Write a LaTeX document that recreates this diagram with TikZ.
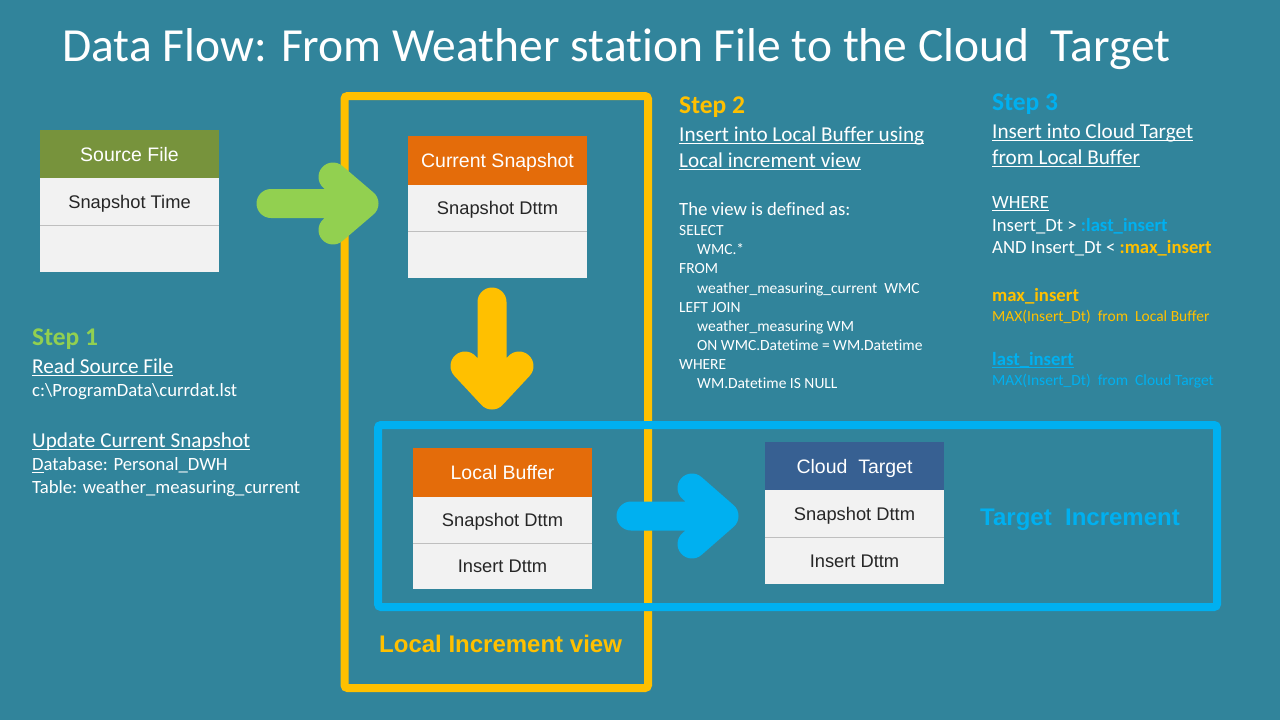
\documentclass[tikz,border=0pt]{standalone}
\usepackage{fontspec}
\setmainfont{Carlito}[Ligatures=NoCommon]
\newfontfamily\arial{Liberation Sans}
\newsavebox\ulbox
\newcommand\uln[1]{\sbox\ulbox{#1}\rlap{\rule[-3pt]{\wd\ulbox}{1.2pt}}\usebox\ulbox}
\newcommand\fsz[1]{\fontsize{#1}{#1}\selectfont}
\definecolor{bg}{RGB}{49,132,155}
\definecolor{cgreen}{HTML}{92D050}
\definecolor{cyellow}{HTML}{FFC000}
\definecolor{cblue}{HTML}{00B0F0}
\definecolor{colive}{HTML}{77933C}
\definecolor{corange}{HTML}{E46C0A}
\definecolor{cnavy}{HTML}{376092}
\definecolor{crow}{HTML}{F2F2F2}
\definecolor{csep}{HTML}{BFBFBF}
\definecolor{ctxt}{HTML}{262626}
\tikzset{
  txt/.style={anchor=base west, inner sep=0pt, text=white},
  hdrcell/.style={minimum width=179pt, minimum height=#1, inner sep=0pt,
    text height=14pt, text depth=0pt, text=white, font=\arial\fsz{19.5}},
  rowcell/.style={minimum width=179pt, minimum height=#1, inner sep=0pt, fill=crow,
    text height=13.2pt, text depth=0pt, text=ctxt, font=\arial\fsz{18.3}},
  sepline/.style={draw=csep, line width=1.2pt},
  fatarrow/.style={line width=29pt, line cap=round, line join=round},
  frame/.style={line width=8pt, rounded corners=3pt},
  bigbold/.style={txt, font=\arial\bfseries\fsz{24}},
  head/.style={txt, font=\fsz{21.2}},
}
\begin{document}
\begin{tikzpicture}[x=1pt,y=-1pt]
\fill[bg] (0,0) rectangle (1280,720);
\useasboundingbox (0,0) rectangle (1280,720);

% title
\node[txt, font=\fsz{47.5}] (title) at (62,61.5) {Data Flow: From Weather station File to the Cloud \ Target};

% yellow frame
\draw[frame, cyellow] (344.5,96) rectangle (648,688);
\node[bigbold, text=cyellow] (localview) at (379,652) {Local Increment view};

% Source File table
\node[hdrcell=48pt, fill=colive] (srch) at (129.5,154) {Source File};
\node[rowcell=47pt] (srcr1) at (129.5,201.5) {Snapshot Time};
\node[rowcell=47pt] (srcr2) at (129.5,248.5) {};
\draw[sepline] (srcr1.south west) -- (srcr1.south east);

% Current Snapshot table
\node[hdrcell=49pt, fill=corange] (curh) at (497.5,160.5) {Current Snapshot};
\node[rowcell=46pt] (curr1) at (497.5,208) {Snapshot Dttm};
\node[rowcell=47pt] (curr2) at (497.5,254.5) {};
\draw[sepline] (curr1.south west) -- (curr1.south east);

% green arrow
\coordinate (g0) at (271,203.5);
\coordinate (g1) at (364,203.5);
\coordinate (ga) at (333,177);
\coordinate (gb) at (333,230);
\draw[fatarrow, cgreen] (g0) -- (g1) (ga) -- (g1) -- (gb);

% yellow arrow
\coordinate (y0) at (492,302);
\coordinate (y1) at (492,395);
\coordinate (ya) at (465,366);
\coordinate (yb) at (519,366);
\draw[fatarrow, cyellow] (y0) -- (y1) (ya) -- (y1) -- (yb);

% blue frame
\draw[frame, cblue] (378,425) rectangle (1217,607);
\node[bigbold, text=cblue] (targinc) at (980,525) {Target \ Increment};

% Local Buffer table
\node[hdrcell=49pt, fill=corange] (lbh) at (502.5,472.5) {Local Buffer};
\node[rowcell=46pt] (lbr1) at (502.5,520) {Snapshot Dttm};
\node[rowcell=46pt] (lbr2) at (502.5,566) {Insert Dttm};
\draw[sepline] (lbr1.south west) -- (lbr1.south east);

% Cloud Target table
\node[hdrcell=48pt, fill=cnavy] (cth) at (854.5,466) {Cloud \ Target};
\node[rowcell=47pt] (ctr1) at (854.5,513.5) {Snapshot Dttm};
\node[rowcell=47pt] (ctr2) at (854.5,560.5) {Insert Dttm};
\draw[sepline] (ctr1.south west) -- (ctr1.south east);

% blue arrow
\coordinate (b0) at (631,516);
\coordinate (b1) at (724,516);
\coordinate (ba) at (692,488);
\coordinate (bb) at (692,544);
\draw[fatarrow, cblue] (b0) -- (b1) (ba) -- (b1) -- (bb);

% Step 1
\node[txt, text=cgreen, font=\bfseries\fsz{25.5}] (s1) at (32,345) {Step 1};
\node[head] (s1a) at (32,373) {\uln{Read Source File}};
\node[txt, font=\fsz{18.7}] (s1b) at (32,396) {c:\textbackslash ProgramData\textbackslash currdat.lst};
\node[head] (s1c) at (32,447) {\uln{Update Current Snapshot}};
\node[txt, font=\fsz{18.7}] (s1d) at (32,470) {\uln{D}atabase: Personal\_DWH};
\node[txt, font=\fsz{18.7}] (s1e) at (32,493) {Table: weather\_measuring\_current};

% Step 2
\node[txt, text=cyellow, font=\bfseries\fsz{25.5}] (s2) at (679,113) {Step 2};
\node[head] (s2a) at (679,141) {\uln{Insert into Local Buffer using}};
\node[head] (s2b) at (679,167) {\uln{Local increment view}};
\node[txt, font=\fsz{18.7}] (s2c) at (679,215) {The view is defined as:};
\node[txt, font=\fsz{15.5}] (q1) at (679,235) {SELECT};
\node[txt, font=\fsz{15.5}] (q2) at (697,254) {WMC.*};
\node[txt, font=\fsz{15.5}] (q3) at (679,273) {FROM};
\node[txt, font=\fsz{15.5}] (q4) at (697,293) {weather\_measuring\_current \ WMC};
\node[txt, font=\fsz{15.5}] (q5) at (679,312) {LEFT JOIN};
\node[txt, font=\fsz{15.5}] (q6) at (697,331) {weather\_measuring WM};
\node[txt, font=\fsz{15.5}] (q7) at (697,350) {ON WMC.Datetime = WM.Datetime};
\node[txt, font=\fsz{15.5}] (q8) at (679,369) {WHERE};
\node[txt, font=\fsz{15.5}] (q9) at (697,388) {WM.Datetime IS NULL};

% Step 3
\node[txt, text=cblue, font=\bfseries\fsz{25.5}] (s3) at (992,110) {Step 3};
\node[head] (s3a) at (992,138) {\uln{Insert into Cloud Target}};
\node[head] (s3b) at (992,164) {\uln{from Local Buffer}};
\node[txt, font=\fsz{18.7}] (s3c) at (992,208) {\uln{WHERE}};
\node[txt, font=\fsz{18.7}] (s3d) at (992,231) {Insert\_Dt > {\bfseries\color{cblue}:last\_insert}};
\node[txt, font=\fsz{18.7}] (s3e) at (992,253) {AND Insert\_Dt < {\bfseries\color{cyellow}:max\_insert}};
\node[txt, text=cyellow, font=\bfseries\fsz{18.7}] (s3f) at (992,301) {max\_insert};
\node[txt, text=cyellow, font=\fsz{15.5}] (s3g) at (992,321) {MAX(Insert\_Dt) \ from \ Local Buffer};
\node[txt, text=cblue, font=\bfseries\fsz{18.7}] (s3h) at (992,365) {\uln{last\_insert}};
\node[txt, text=cblue, font=\fsz{15.5}] (s3i) at (992,385) {MAX(Insert\_Dt) \ from \ Cloud Target};
\end{tikzpicture}
\end{document}
